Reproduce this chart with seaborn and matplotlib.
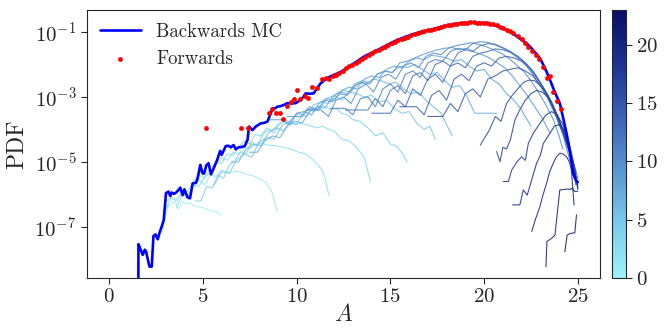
import numpy as np
import pandas as pd
import matplotlib
matplotlib.use("Agg")
import matplotlib.pyplot as plt
import seaborn as sns
from matplotlib.colors import LinearSegmentedColormap, Normalize
from matplotlib.cm import ScalarMappable
from matplotlib.ticker import FixedLocator, NullLocator, LogFormatterMathtext

# ---------------- data (log10 of PDF) ----------------
back_A = [1.55, 1.56, 1.68, 1.79, 1.9, 1.97, 2.06, 2.15, 2.27, 2.36, 2.47, 2.59, 2.7, 2.80, 2.91,
          3.03, 3.16, 3.26, 3.33, 3.45, 3.55, 3.67, 3.79, 3.92, 4.01, 4.18, 4.31, 4.45, 4.63, 4.72,
          4.86, 4.98, 5.06, 5.18, 5.30, 5.43, 5.6, 5.75, 5.92, 6.0, 6.22, 6.35, 6.49, 6.63, 6.76,
          6.9, 7.05, 7.23, 7.38, 7.46, 7.64, 7.82, 8.09, 8.25, 8.44, 8.62, 8.71, 8.85, 8.97, 9.15,
          9.3, 9.5, 9.7, 9.95, 10.2, 10.35, 10.48, 10.7, 10.9, 11.1, 11.28, 11.45, 11.63, 11.8, 11.98,
          12.3, 12.7, 13.1, 13.58, 14.0, 14.5, 15.0, 15.35, 15.8, 16.3, 16.7, 17.13, 17.6, 18.1, 18.55,
          19.0, 19.26, 19.79, 20.1, 20.5, 20.85, 21.2, 21.55, 21.9, 22.2, 22.45, 22.75, 22.98, 23.15,
          23.33, 23.5, 23.69, 23.85, 24.04, 24.2, 24.4, 24.49, 24.57, 24.66, 24.75, 24.85, 24.93, 25.0]
back_logpdf = [-10.0, -7.53, -7.7, -7.86, -7.7, -7.76, -8.0, -8.22, -8.22, -7.28, -7.23, -7.38, -7.15, -6.99, -6.78,
               -5.96, -5.91, -6.05, -5.94, -5.98, -5.95, -5.88, -5.79, -6.02, -5.84, -6.09, -6.12, -5.66, -5.64, -5.5,
               -5.09, -5.35, -5.36, -5.1, -5.04, -5.38, -5.16, -4.95, -4.66, -4.78, -4.51, -4.5, -4.55, -4.48, -4.61,
               -4.55, -4.54, -4.51, -4.32, -3.91, -4.02, -3.91, -3.81, -3.8, -3.76, -3.5, -3.35, -3.35, -3.3, -3.28,
               -3.25, -3.19, -3.2, -3.19, -3.09, -3.0, -2.89, -2.9, -2.89, -2.73, -2.58, -2.5, -2.42, -2.37, -2.32,
               -2.25, -2.1, -1.95, -1.76, -1.64, -1.5, -1.35, -1.25, -1.15, -1.05, -0.99, -0.94, -0.86, -0.79, -0.75,
               -0.72, -0.71, -0.71, -0.73, -0.78, -0.85, -0.94, -1.05, -1.2, -1.32, -1.45, -1.65, -1.81, -2.0,
               -2.22, -2.45, -2.73, -2.95, -3.19, -3.6, -4.12, -4.4, -4.63, -5.0, -5.35, -5.5, -5.58, -5.62]

fwd_A = [5.17, 7.04, 7.43, 8.53, 8.71, 8.88, 9.11, 9.29, 9.47, 9.68, 9.86, 10.04, 10.2, 10.43, 10.6,
         10.8, 11.06, 11.33, 11.54, 11.72, 11.93, 12.1, 12.28, 12.45, 12.62, 12.8, 12.97, 13.15, 13.32,
         13.5, 13.67, 13.85, 14.02, 14.2, 14.37, 14.55, 14.72, 14.9, 15.07, 15.25, 15.42, 15.6, 15.77,
         15.95, 16.12, 16.3, 16.47, 16.65, 16.82, 17.0, 17.17, 17.35, 17.52, 17.7, 17.87, 18.05, 18.22,
         18.4, 18.57, 18.75, 18.92, 19.1, 19.27, 19.45, 19.62, 19.8, 19.97, 20.15, 20.32, 20.5, 20.67,
         20.85, 21.02, 21.2, 21.37, 21.55, 21.83, 22.0, 22.18, 22.36, 22.54, 22.77, 22.94, 23.16, 23.33,
         23.51, 23.69, 23.9, 24.1]
fwd_logpdf = [-3.97, -3.97, -3.97, -3.5, -3.38, -3.5, -3.5, -3.68, -3.28, -3.14, -3.07, -2.8, -3.07, -2.97, -3.02,
              -2.68, -2.73, -2.44, -2.42, -2.46, -2.35, -2.32, -2.26, -2.2, -2.12, -2.05, -2.02, -1.95, -1.88,
              -1.82, -1.76, -1.7, -1.65, -1.6, -1.54, -1.5, -1.45, -1.4, -1.35, -1.3, -1.26, -1.21, -1.18,
              -1.14, -1.1, -1.07, -1.03, -1.0, -0.98, -0.95, -0.93, -0.9, -0.87, -0.84, -0.82, -0.8, -0.78,
              -0.76, -0.75, -0.73, -0.72, -0.71, -0.7, -0.7, -0.71, -0.71, -0.72, -0.73, -0.75, -0.77, -0.8,
              -0.84, -0.88, -0.93, -0.98, -1.03, -1.12, -1.23, -1.35, -1.45, -1.58, -1.71, -1.84, -2.07, -2.43,
              -2.37, -2.84, -3.12, -3.38]

# thin curves, one per step index
step_A = {
    0: [2.8, 3.0, 3.15, 3.3, 3.5, 3.7, 3.9, 4.1, 4.3, 4.5, 4.8, 5.1, 5.4, 5.7, 5.96],
    1: [2.9, 3.05, 3.3, 3.6, 3.9, 4.2, 4.5, 4.8, 5.1, 5.4, 5.7, 6.0, 6.4, 6.8, 7.2, 7.6, 8.0, 8.4, 8.7, 8.97],
    2: [3.0, 3.3, 3.6, 3.9, 4.2, 4.5, 4.8, 5.1, 5.4, 5.7, 6.0, 6.3, 6.6, 6.9, 7.2, 7.5, 7.8, 8.1, 8.5, 8.9,
        9.3, 9.7, 10.1, 10.5, 10.9, 11.3, 11.5, 11.72],
    3: [3.6, 3.9, 4.2, 4.5, 4.8, 5.1, 5.4, 5.7, 6.0, 6.3, 6.6, 6.9, 7.2, 7.5, 7.8, 8.1, 8.4, 8.7, 9.0, 9.3,
        9.6, 9.9, 10.2, 10.5, 10.8, 11.1, 11.4, 11.7, 12.0, 12.4, 12.8, 13.2, 13.6, 13.94],
    4: [4.6, 4.9, 5.2, 5.5, 5.8, 6.1, 6.4, 6.7, 7.0, 7.3, 7.6, 7.9, 8.2, 8.5, 8.8, 9.1, 9.4, 9.7, 10.0, 10.3,
        10.6, 10.9, 11.2, 11.5, 11.8, 12.1, 12.4, 12.7, 13.0, 13.4, 13.8, 14.2, 14.6, 15.0, 15.3, 15.6, 15.9],
    5: [5.6, 6.0, 6.4, 6.8, 7.2, 7.6, 8.0, 8.4, 8.8, 9.2, 9.6, 10.0, 10.4, 10.8, 11.2, 11.6, 12.0, 12.4, 12.8,
        13.2, 13.6, 14.0, 14.4, 14.8, 15.2, 15.6, 16.0, 16.4, 16.8, 17.1, 17.4],
    6: [6.5, 6.9, 7.3, 7.7, 8.1, 8.5, 8.9, 9.3, 9.7, 10.1, 10.5, 10.9, 11.3, 11.7, 12.1, 12.5, 12.9, 13.3,
        13.7, 14.1, 14.5, 14.9, 15.3, 15.7, 16.1, 16.5, 16.9, 17.3, 17.7, 18.0, 18.3],
    7: [7.5, 7.9, 8.3, 8.7, 9.1, 9.5, 9.9, 10.3, 10.7, 11.1, 11.5, 11.9, 12.3, 12.7, 13.1, 13.5, 13.9, 14.3,
        14.7, 15.1, 15.5, 15.9, 16.3, 16.7, 17.1, 17.5, 17.9, 18.3, 18.7, 19.1, 19.5, 20.1, 20.7],
    8: [8.5, 9.2, 9.6, 10.0, 10.4, 10.8, 11.2, 11.6, 12.0, 12.4, 12.8, 13.2, 13.6, 14.0, 14.4, 14.8, 15.2,
        15.6, 16.0, 16.4, 16.8, 17.2, 17.6, 18.0, 18.4, 18.8, 19.2, 19.6, 20.0, 20.4, 20.8, 21.2, 21.6, 22.0, 22.5],
    9: [9.5, 10.3, 10.7, 11.1, 11.5, 11.9, 12.3, 12.7, 13.1, 13.5, 13.9, 14.3, 14.7, 15.1, 15.5, 15.9, 16.3,
        16.7, 17.1, 17.5, 17.9, 18.3, 18.7, 19.1, 19.5, 19.9, 20.3, 20.7, 21.1, 21.5, 21.9, 22.3, 22.7, 23.1, 23.5],
    10: [10.5, 11.3, 11.7, 12.1, 12.5, 12.9, 13.3, 13.7, 14.1, 14.5, 14.9, 15.3, 15.7, 16.1, 16.5, 16.9, 17.3,
         17.7, 18.1, 18.5, 18.9, 19.3, 19.7, 20.1, 20.5, 20.9, 21.3, 21.7, 22.1, 22.5, 22.9, 23.3, 23.7, 24.0, 24.2],
    11: [11.8, 12.6, 13.0, 13.4, 13.8, 14.2, 14.6, 15.0, 15.4, 15.8, 16.2, 16.6, 17.0, 17.4, 17.8, 18.2, 18.6,
         19.0, 19.4, 19.8, 20.2, 20.6, 21.0, 21.4, 21.8, 22.2, 22.6, 23.0, 23.4, 23.8, 24.2, 24.6],
    12: [12.6, 13.8, 14.2, 14.6, 15.0, 15.4, 15.8, 16.2, 16.6, 17.0, 17.4, 17.8, 18.2, 18.6, 19.0, 19.4, 19.8,
         20.2, 20.6, 21.0, 21.4, 21.8, 22.2, 22.6, 23.0, 23.4, 23.8, 24.2, 24.5, 24.8],
    13: [14.0, 15.0, 15.4, 15.8, 16.2, 16.6, 17.0, 17.4, 17.8, 18.2, 18.6, 19.0, 19.4, 19.8, 20.2, 20.6, 21.0,
         21.4, 21.8, 22.2, 22.6, 23.0, 23.4, 23.8, 24.2, 24.6, 24.9],
    14: [15.5, 16.4, 16.8, 17.2, 17.6, 18.0, 18.4, 18.8, 19.2, 19.6, 20.0, 20.4, 20.8, 21.2, 21.6, 22.0, 22.4,
         22.8, 23.2, 23.6, 24.0, 24.4, 24.7, 25.0],
    15: [17.0, 17.8, 18.2, 18.6, 19.0, 19.4, 19.8, 20.2, 20.6, 21.0, 21.4, 21.8, 22.2, 22.6, 23.0, 23.4, 23.8,
         24.2, 24.6, 25.0],
    16: [19.8, 20.3, 20.6, 20.9, 21.2, 21.5, 21.8, 22.1, 22.4, 22.7, 23.0, 23.3, 23.6, 23.9, 24.2, 24.5, 24.8, 25.0],
    17: [20.67, 20.85, 21.0, 21.2, 21.4, 21.65, 21.9, 22.2, 22.5, 22.8, 23.1, 23.4, 23.7, 24.0, 24.3, 24.6, 24.85, 25.0],
    18: [21.03, 21.3, 21.47, 21.75, 22.0, 22.2, 22.36, 22.62, 22.98, 23.3, 23.6, 23.9, 24.2, 24.5, 24.75, 25.0],
    19: [21.52, 21.91, 22.09, 22.3, 22.54, 22.8, 23.0, 23.16, 23.51, 23.75, 24.0, 24.25, 24.5, 24.7, 24.9],
    20: [22.54, 22.75, 22.98, 23.15, 23.33, 23.5, 23.69, 23.85, 24.04, 24.2, 24.4, 24.55, 24.66, 24.8],
    21: [23.3, 23.35, 23.6, 23.78, 23.9, 24.04, 24.2, 24.49, 24.6, 24.7, 24.84, 25.0],
    22: [24.31, 24.43, 24.6, 24.84, 24.93],
}
step_logpdf = {
    0: [-7.2, -6.7, -6.35, -6.3, -6.2, -6.45, -6.2, -6.3, -6.25, -6.35, -6.38, -6.42, -6.5, -6.52, -6.63],
    1: [-6.9, -6.2, -6.1, -6.15, -5.95, -6.1, -5.8, -5.55, -5.7, -5.4, -5.45, -5.25, -5.32, -5.28, -5.35,
        -5.42, -5.5, -5.65, -5.95, -6.53],
    2: [-6.5, -6.1, -6.2, -5.85, -5.9, -5.6, -5.4, -5.5, -5.15, -5.05, -4.85, -4.95, -4.7, -4.75, -4.55,
        -4.6, -4.45, -4.43, -4.48, -4.5, -4.55, -4.6, -4.7, -4.75, -4.95, -5.2, -5.45, -6.02],
    3: [-6.4, -6.0, -6.05, -5.7, -5.75, -5.45, -5.35, -5.0, -5.05, -4.75, -4.8, -4.55, -4.35, -4.45, -4.15,
        -4.2, -3.95, -4.05, -3.85, -3.8, -3.75, -3.85, -3.8, -3.85, -3.9, -3.95, -3.9, -4.0, -4.05, -4.3,
        -4.35, -4.55, -4.85, -5.6],
    4: [-6.2, -6.2, -5.75, -5.8, -5.4, -5.5, -5.1, -4.95, -4.7, -4.75, -4.4, -4.5, -4.15, -4.0, -4.1, -3.8,
        -3.7, -3.85, -3.5, -3.55, -3.35, -3.45, -3.3, -3.28, -3.4, -3.35, -3.5, -3.55, -3.7, -3.75, -3.95,
        -4.2, -4.1, -4.45, -4.5, -4.7, -5.0],
    5: [-5.7, -5.3, -5.35, -4.95, -4.75, -4.85, -4.4, -4.25, -4.3, -3.9, -3.75, -3.85, -3.45, -3.35, -3.4,
        -3.05, -2.95, -3.1, -2.85, -2.9, -3.0, -2.95, -3.15, -3.1, -3.35, -3.5, -3.45, -3.8, -4.0, -3.9, -4.3],
    6: [-5.0, -5.0, -4.6, -4.45, -4.5, -4.1, -3.95, -4.05, -3.7, -3.5, -3.6, -3.25, -3.15, -3.2, -2.9, -2.8,
        -2.85, -2.55, -2.6, -2.45, -2.5, -2.6, -2.55, -2.75, -2.9, -2.85, -3.1, -3.3, -3.5, -3.85, -4.2],
    7: [-4.7, -4.7, -4.35, -4.2, -4.25, -3.9, -3.75, -3.8, -3.45, -3.3, -3.35, -3.0, -2.85, -2.9, -2.6, -2.5,
        -2.55, -2.3, -2.2, -2.25, -2.05, -2.1, -2.0, -2.15, -2.3, -2.25, -2.5, -2.7, -2.65, -3.0, -3.5, -3.5, -3.5],
    8: [-3.7, -3.7, -3.85, -3.5, -3.45, -3.55, -3.2, -3.05, -3.1, -2.8, -2.7, -2.75, -2.45, -2.35, -2.4,
        -2.15, -2.05, -2.1, -1.9, -1.8, -1.85, -1.72, -1.75, -1.8, -1.9, -1.85, -2.05, -2.2, -2.15, -2.45,
        -2.6, -2.9, -3.1, -3.4, -3.9],
    9: [-3.6, -3.6, -3.3, -3.4, -3.1, -3.15, -2.9, -2.95, -2.65, -2.55, -2.6, -2.3, -2.2, -2.25, -1.95,
        -1.9, -1.8, -1.7, -1.62, -1.55, -1.5, -1.48, -1.55, -1.5, -1.62, -1.7, -1.8, -1.95, -2.1, -2.35,
        -2.65, -2.95, -3.3, -3.65, -4.1],
    10: [-3.4, -3.4, -3.6, -3.1, -3.0, -3.2, -2.75, -2.6, -2.85, -2.4, -2.3, -2.45, -2.05, -1.95, -2.1,
         -1.75, -1.65, -1.7, -1.5, -1.42, -1.38, -1.33, -1.38, -1.45, -1.55, -1.65, -1.8, -2.0, -2.2, -2.5,
         -2.85, -3.25, -3.7, -4.2, -4.6],
    11: [-3.35, -3.35, -3.55, -3.05, -3.0, -3.3, -2.75, -2.6, -2.85, -2.3, -2.2, -2.4, -1.95, -1.85, -1.9,
         -1.6, -1.5, -1.55, -1.35, -1.3, -1.32, -1.4, -1.5, -1.62, -1.8, -2.0, -2.3, -2.65, -3.05, -3.55,
         -4.15, -5.0],
    12: [-3.4, -3.4, -3.05, -3.3, -2.8, -2.65, -2.9, -2.35, -2.25, -2.5, -2.0, -1.9, -2.05, -1.65, -1.55,
         -1.6, -1.42, -1.36, -1.38, -1.48, -1.6, -1.75, -1.95, -2.2, -2.55, -2.95, -3.45, -4.0, -4.5, -5.2],
    13: [-3.5, -3.5, -3.1, -3.3, -2.75, -2.95, -2.45, -2.3, -2.55, -2.05, -1.95, -2.1, -1.75, -1.65, -1.6,
         -1.52, -1.55, -1.62, -1.75, -1.95, -2.2, -2.55, -2.95, -3.45, -4.05, -4.7, -5.3],
    14: [-3.3, -3.3, -3.55, -2.95, -2.8, -3.1, -2.45, -2.3, -2.5, -2.05, -1.95, -2.05, -1.8, -1.75, -1.8,
         -1.9, -2.1, -2.4, -2.75, -3.2, -3.75, -4.4, -4.9, -5.5],
    15: [-3.6, -3.6, -3.2, -3.45, -2.9, -2.75, -3.0, -2.45, -2.35, -2.2, -2.15, -2.1, -2.2, -2.35, -2.65,
         -3.0, -3.5, -4.1, -4.8, -5.7],
    16: [-4.48, -4.0, -3.6, -3.75, -3.2, -2.95, -2.75, -2.55, -2.48, -2.5, -2.65, -2.85, -3.15, -3.55, -4.0,
         -4.55, -5.2, -5.75],
    17: [-4.68, -4.99, -4.55, -4.6, -4.32, -3.7, -3.4, -3.1, -2.9, -2.8, -2.85, -3.0, -3.3, -3.7, -4.2,
         -4.75, -5.3, -5.8],
    18: [-5.6, -5.6, -5.25, -5.0, -4.84, -4.95, -4.43, -4.12, -3.81, -3.55, -3.45, -3.55, -3.85, -4.35,
         -4.95, -5.85],
    19: [-6.32, -6.32, -5.86, -6.02, -5.55, -5.04, -4.8, -4.43, -4.12, -3.9, -3.85, -4.0, -4.45, -5.0, -5.7],
    20: [-7.14, -6.75, -6.37, -6.0, -5.66, -5.3, -5.04, -4.85, -4.73, -4.75, -4.84, -5.0, -5.25, -6.32],
    21: [-8.22, -7.45, -7.35, -7.25, -6.6, -5.86, -5.85, -5.83, -5.85, -5.8, -5.91, -5.9],
    22: [-7.76, -7.25, -7.2, -7.18, -6.63],
}

x_ticks = [0, 5, 10, 15, 20, 25]
y_ticks = [1e-7, 1e-5, 1e-3, 1e-1]
cbar_ticks = [0, 5, 10, 15, 20]
step_max = 23

# ---------------- style ----------------
sns.set_theme(style="ticks")
plt.rcParams["font.family"] = ["serif"]
plt.rcParams["font.serif"] = ["cmr10", "DejaVu Serif"]
plt.rcParams["mathtext.fontset"] = "cm"
plt.rcParams["axes.formatter.use_mathtext"] = True

cmap = LinearSegmentedColormap.from_list(
    "steps", ["#9ff2fa", "#7ccbea", "#5a96d2", "#3c62b4", "#1c3390", "#0a0f66"])
norm = Normalize(0, step_max)

rows = []
for k in step_A:
    for a, lp in zip(step_A[k], step_logpdf[k]):
        rows.append({"A": a, "pdf": 10.0 ** lp, "step": k})
steps_df = pd.DataFrame(rows)
back_df = pd.DataFrame({"A": back_A, "pdf": 10.0 ** np.array(back_logpdf)})
fwd_df = pd.DataFrame({"A": fwd_A, "pdf": 10.0 ** np.array(fwd_logpdf)})

fig = plt.figure(figsize=(6.67, 3.29), dpi=100)
ax = fig.add_axes([0.130, 0.155, 0.770, 0.815])
cax = fig.add_axes([0.9175, 0.155, 0.021, 0.815])

sns.lineplot(data=steps_df, x="A", y="pdf", hue="step", palette=cmap, hue_norm=norm,
             units="step", estimator=None, sort=False, lw=0.8, alpha=0.85, legend=False, ax=ax)
sns.lineplot(data=back_df, x="A", y="pdf", color="#0000ff", lw=1.9, sort=False,
             estimator=None, label="Backwards MC", ax=ax)
sns.scatterplot(data=fwd_df, x="A", y="pdf", color="#ff0000", s=12, linewidth=0,
                label="Forwards", ax=ax, zorder=5)

ax.set_yscale("log")
ax.set_xlim(-1.2, 26.2)
ax.set_ylim(10 ** -8.57, 10 ** -0.32)
ax.set_xticks(x_ticks)
ax.yaxis.set_major_locator(FixedLocator(y_ticks))
ax.yaxis.set_major_formatter(LogFormatterMathtext())
ax.yaxis.set_minor_locator(NullLocator())
ax.tick_params(labelsize=15, length=4, width=0.8)
ax.set_xlabel("$A$", fontsize=17)
ax.xaxis.set_label_coords(0.5, -0.095)
ax.set_ylabel("PDF", fontsize=17, labelpad=4)
for sp in ax.spines.values():
    sp.set_visible(True)
    sp.set_linewidth(0.8)

leg = ax.legend(loc="upper left", frameon=False, fontsize=13.5, markerscale=1.0,
                handlelength=2.2, borderaxespad=0.3)

cb = fig.colorbar(ScalarMappable(norm=norm, cmap=cmap), cax=cax)
cb.set_ticks(cbar_ticks)
cb.ax.tick_params(labelsize=15, length=4, width=0.8)
cb.outline.set_linewidth(0.8)

fig.savefig("out.png", dpi=100)
